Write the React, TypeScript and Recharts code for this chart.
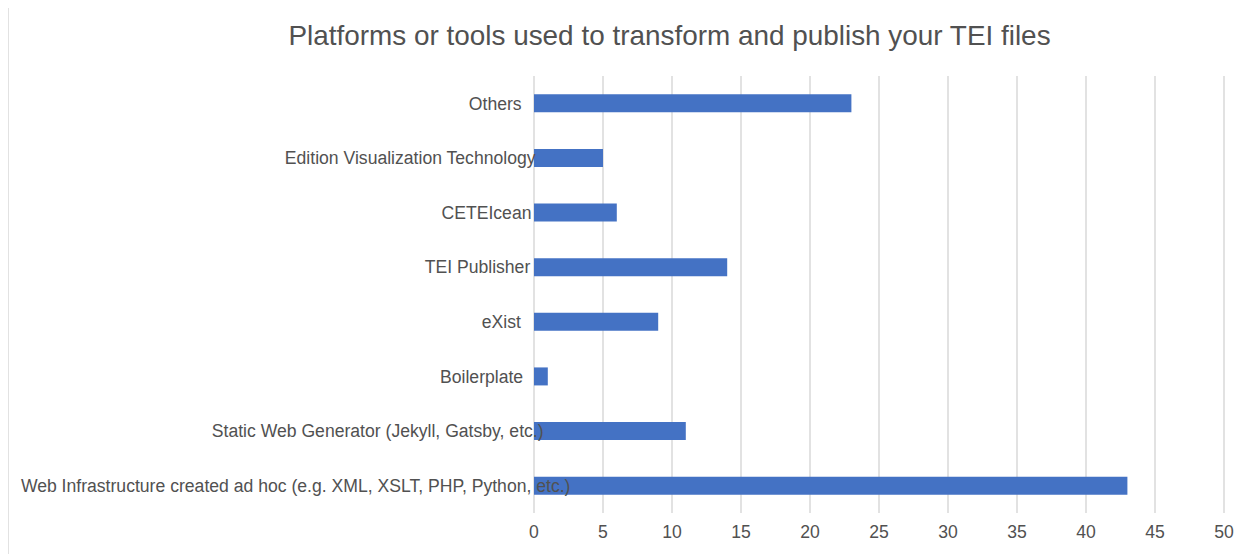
import React from 'react';
import { BarChart, Bar, XAxis, YAxis, CartesianGrid } from 'recharts';

const chartTitle = 'Platforms or tools used to transform and publish your TEI files';

const categories = [
  'Others',
  'Edition Visualization Technology',
  'CETEIcean',
  'TEI Publisher',
  'eXist',
  'Boilerplate',
  'Static Web Generator (Jekyll, Gatsby, etc.)',
  'Web Infrastructure created ad hoc (e.g. XML, XSLT, PHP, Python, etc.)',
];

const counts = [23, 5, 6, 14, 9, 1, 11, 43];

const xTicks = [0, 5, 10, 15, 20, 25, 30, 35, 40, 45, 50];

const data = categories.map((name, i) => ({ name, value: counts[i] }));

const FONT = '"Liberation Sans", Arial, Helvetica, sans-serif';
const LABEL_SIZE = 17.6;
const TEXT_COLOR = '#515151';

let ctx: CanvasRenderingContext2D | null = null;
function measure(text: string, size: number): number {
  if (!ctx) {
    const c = document.createElement('canvas');
    ctx = c.getContext('2d');
  }
  if (!ctx) return text.length * size * 0.5;
  ctx.font = `${size}px ${FONT}`;
  return ctx.measureText(text).width;
}

// Emulates the source renderer's label placement (right aligned near the axis,
// drifting right for long / capital-heavy labels).
const CategoryTick = (props: any) => {
  const { y, payload } = props;
  const label: string = payload.value;
  const w = measure(label, LABEL_SIZE);
  const caps = (label.match(/[A-Z]/g) || []).length;
  const endX = 509 + 2 * caps + 0.05 * w;
  return (
    <text
      x={endX}
      y={y}
      dy="0.355em"
      textAnchor="end"
      fill={TEXT_COLOR}
      fontSize={LABEL_SIZE}
      fontFamily={FONT}
    >
      {label}
    </text>
  );
};

export default function App() {
  return (
    <div style={{ position: 'relative', width: 1243, height: 546 }}>
      <div
        style={{
          position: 'absolute',
          left: -1,
          top: -2,
          width: 1245,
          height: 550,
          borderTop: '2px solid #e2e2e2',
          borderLeft: '2px solid #e2e2e2',
          boxSizing: 'border-box',
        }}
      />
      <div
        style={{
          position: 'absolute',
          left: 0,
          width: 1323,
          top: 13,
          textAlign: 'center',
          fontFamily: FONT,
          fontSize: 27.9,
          color: TEXT_COLOR,
          lineHeight: '30px',
          whiteSpace: 'nowrap',
        }}
      >
        {chartTitle}
      </div>
      <BarChart
        width={1243}
        height={546}
        data={data}
        layout="vertical"
        margin={{ top: 68, right: 27, bottom: 11, left: 0 }}
        barCategoryGap="33.5%"
      >
        <CartesianGrid horizontal={false} vertical={true} stroke="#d9d9d9" strokeWidth={1.5} />
        <XAxis
          type="number"
          domain={[0, 50]}
          ticks={xTicks}
          interval={0}
          axisLine={false}
          tickLine={false}
          tickMargin={7}
          height={30}
          tick={{ fill: TEXT_COLOR, fontSize: LABEL_SIZE, fontFamily: FONT }}
        />
        <YAxis
          type="category"
          dataKey="name"
          width={526}
          axisLine={false}
          tickLine={false}
          interval={0}
          tick={<CategoryTick />}
        />
        <Bar dataKey="value" fill="#4472C4" isAnimationActive={false} />
      </BarChart>
    </div>
  );
}
